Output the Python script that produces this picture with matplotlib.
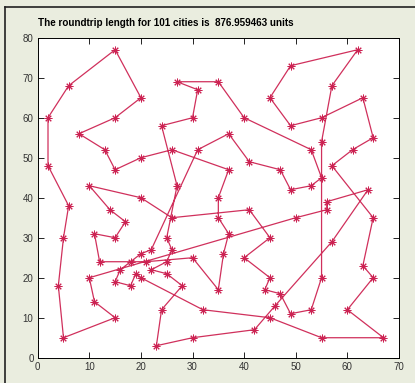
import matplotlib
matplotlib.use("Agg")
from matplotlib import pyplot as plt
from matplotlib.lines import Line2D

# tour order of the cities
tour_x = [15, 20, 15, 8, 13, 15, 20, 26, 37, 35, 35, 37, 36, 35, 30, 21, 18, 12, 11, 15,
          17, 14, 10, 20, 26, 41, 45, 40, 45, 44, 47, 49, 53, 55, 55, 57, 62, 49, 45, 49,
          55, 63, 65, 61, 57, 65, 63, 65, 60, 67, 55, 45, 32, 20, 19, 18, 15, 16, 20, 22,
          31, 37, 41, 47, 49, 53, 55, 53, 40, 35, 27, 31, 30, 24, 27, 25, 26, 25, 22, 25,
          28, 24, 23, 30, 42, 46, 57, 64, 56, 56, 50, 10, 11, 15, 5, 4, 5, 6, 2, 2, 6]
tour_y = [77, 65, 60, 56, 52, 47, 50, 52, 47, 40, 35, 31, 26, 17, 25, 24, 24, 24, 31, 30,
          34, 37, 43, 40, 35, 37, 30, 25, 20, 17, 16, 11, 12, 20, 54, 68, 77, 73, 65, 58,
          60, 65, 55, 52, 48, 35, 23, 20, 12, 5, 5, 10, 12, 20, 21, 18, 19, 22, 26, 27,
          52, 56, 49, 47, 42, 43, 45, 52, 60, 69, 69, 67, 60, 58, 43, 30, 27, 24, 22, 21,
          18, 12, 3, 5, 7, 13, 29, 42, 39, 37, 35, 20, 14, 10, 5, 18, 30, 38, 48, 60, 68]
tour_length = 876.959463

xt = list(range(0, 71, 10))
yt = list(range(0, 81, 10))

plt.rcParams['font.family'] = ['Liberation Sans', 'DejaVu Sans']

fig = plt.figure(figsize=(4.15, 3.83), dpi=100)
fig.patch.set_facecolor('#eaeddf')
ax = fig.add_axes([0.0908, 0.066, 0.8706, 0.8355])

# closed round trip, MATLAB style 'r*-'
px = tour_x + [tour_x[0]]
py = tour_y + [tour_y[0]]
ax.plot(px, py, '-', color='#d0305c', lw=0.9)
ax.plot(tour_x, tour_y, ls='none', marker=(8, 2, 0), color='#cc2252', ms=5.5, mew=0.7)

ax.set_xlim(0, 70)
ax.set_ylim(0, 80)
ax.set_xticks(xt)
ax.set_yticks(yt)
ax.tick_params(direction='in', length=4, width=0.6, top=True, right=True,
               labelsize=7, labelcolor='#333333', pad=3)
for s in ax.spines.values():
    s.set_linewidth(0.7)

fig.text(0.0908, 0.94, "The roundtrip length for %d cities is  %.6f units" % (len(tour_x), tour_length),
         fontsize=7.1, fontweight='bold', ha='left', va='center')

# window frame (top / left edge)
fig.add_artist(Line2D([5/415, 1], [1 - 7/383, 1 - 7/383], color='#222222', lw=1.2))
fig.add_artist(Line2D([5/415, 5/415], [0, 1 - 7/383], color='#222222', lw=1.2))

fig.savefig('out.png', dpi=100, facecolor=fig.get_facecolor())
